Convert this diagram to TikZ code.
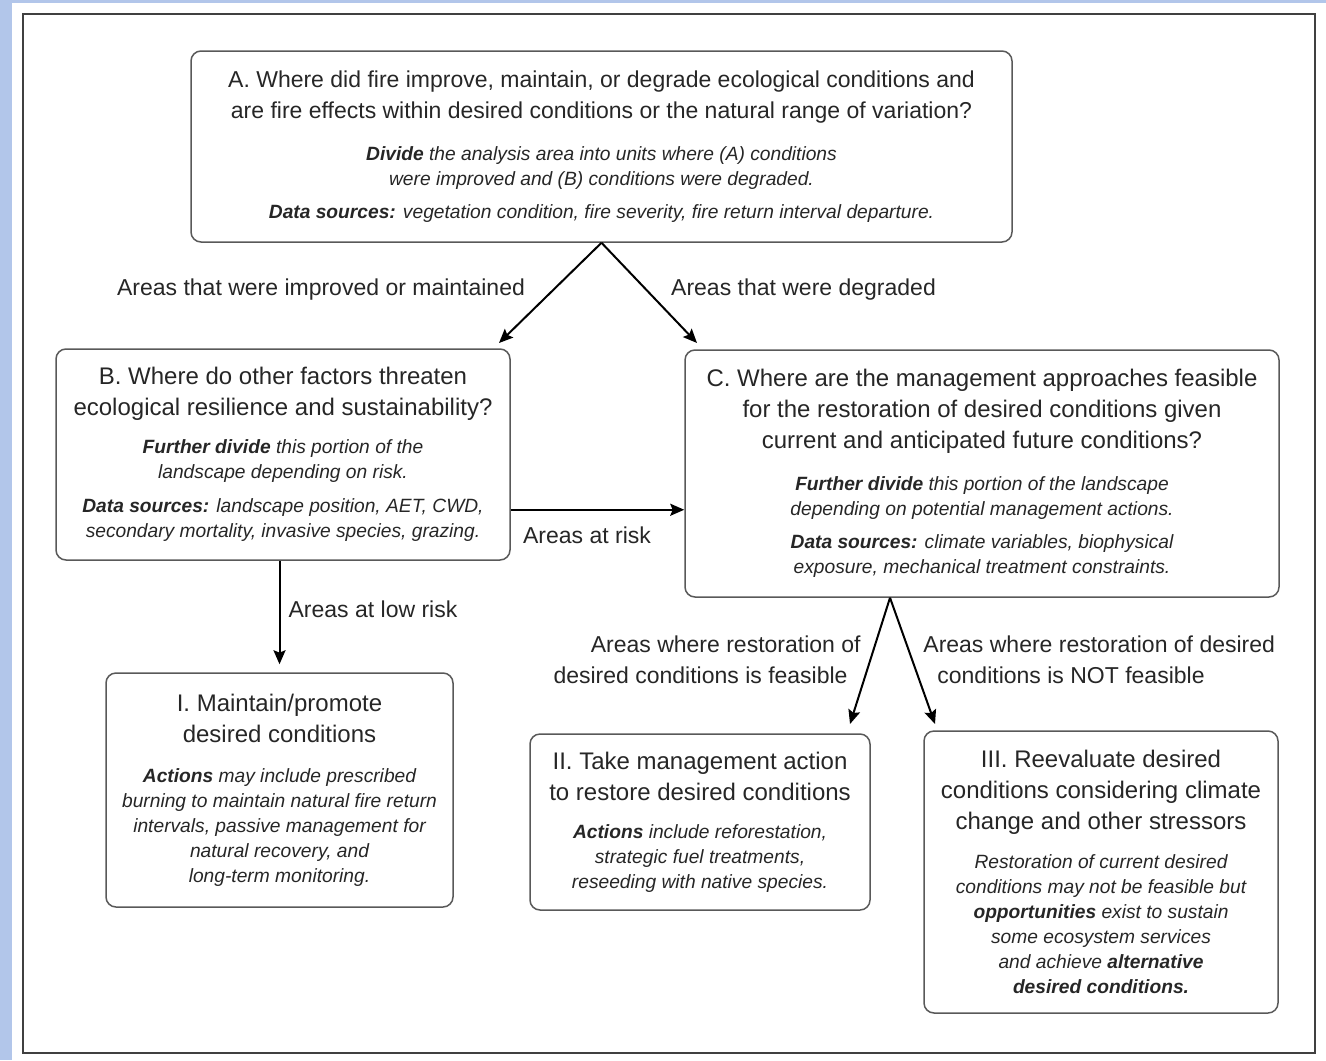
\documentclass[tikz,border=0pt]{standalone}
\usepackage{fontspec}
\setmainfont{Liberation Sans}
\usepackage{xcolor}
\usetikzlibrary{arrows.meta,calc}

\definecolor{sideblue}{RGB}{178,198,234}
\newcommand{\boxtitle}{\fontsize{12}{15.5}\selectfont}
\newcommand{\boxnote}{\fontsize{9.6}{12.3}\selectfont\itshape}

\tikzset{
  qbox/.style={draw=black!65, line width=0.75pt, rounded corners=5pt, align=center,
    font=\boxtitle, text=black!85},
  flowarrow/.style={line width=1pt, -{Stealth[length=7pt,width=6pt,inset=1.2pt]}},
  edgelabel/.style={font=\fontsize{11.5}{15.5}\selectfont, text=black!85, inner sep=0pt}
}

\begin{document}
\begin{tikzpicture}[x=0.5pt,y=-0.5pt]
\useasboundingbox (0,0) rectangle (1326,1060);
\fill[sideblue] (0,0) rectangle (12,1060);
\fill[sideblue] (0,0) rectangle (1326,3);
\draw[black!75, line width=1.2pt] (23,14) rectangle (1315,1053);

\begin{scope}
\node[qbox, font=\fontsize{11.5}{15.5}\selectfont, minimum width=410.5pt, minimum height=95.5pt]
  (A) at (601.5,146.5)
  {A. Where did fire improve, maintain, or degrade ecological conditions and\\
   are fire effects within desired conditions or the natural range of variation?\\[5.5pt]
   \boxnote\textbf{Divide} the analysis area into units where (A) conditions\\[-3pt]
   \boxnote were improved and (B) conditions were degraded.\\[1pt]
   \boxnote\textbf{Data sources:} vegetation condition, fire severity, fire return interval departure.};

\node[qbox, minimum width=227pt, minimum height=105.5pt] (B) at (283,454.5)
  {B. Where do other factors threaten\\
   ecological resilience and sustainability?\\[3.5pt]
   \boxnote\textbf{Further divide} this portion of the\\[-3pt]
   \boxnote landscape depending on risk.\\[1.5pt]
   \boxnote\textbf{Data sources:} landscape position, AET, CWD,\\[-3pt]
   \boxnote secondary mortality, invasive species, grazing.};

\node[qbox, minimum width=297pt, minimum height=123.5pt] (C) at (982,473.5)
  {C. Where are the management approaches feasible\\
   for the restoration of desired conditions given\\
   current and anticipated future conditions?\\[5.5pt]
   \boxnote\textbf{Further divide} this portion of the landscape\\[-3pt]
   \boxnote depending on potential management actions.\\[1pt]
   \boxnote\textbf{Data sources:} climate variables, biophysical\\[-3pt]
   \boxnote exposure, mechanical treatment constraints.};

\node[qbox, minimum width=173.5pt, minimum height=117pt] (I) at (279.5,790)
  {I. Maintain/promote\\
   desired conditions\\[4.5pt]
   \boxnote\textbf{Actions} may include prescribed\\[-3pt]
   \boxnote burning to maintain natural fire return\\[-3pt]
   \boxnote intervals, passive management for\\[-3pt]
   \boxnote natural recovery, and\\[-3pt]
   \boxnote long-term monitoring.};

\node[qbox, minimum width=170pt, minimum height=88pt] (II) at (700,822)
  {II. Take management action\\
   to restore desired conditions\\[3.5pt]
   \boxnote\textbf{Actions} include reforestation,\\[-3pt]
   \boxnote strategic fuel treatments,\\[-3pt]
   \boxnote reseeding with native species.};

\node[qbox, minimum width=177pt, minimum height=141pt] (III) at (1101,872)
  {III. Reevaluate desired\\
   conditions considering climate\\
   change and other stressors\\[4pt]
   \boxnote Restoration of current desired\\[-3pt]
   \boxnote conditions may not be feasible but\\[-3pt]
   \boxnote\textbf{opportunities} exist to sustain\\[-3pt]
   \boxnote some ecosystem services\\[-3pt]
   \boxnote and achieve \textbf{alternative}\\[-3pt]
   \boxnote\textbf{desired conditions.}};
\end{scope}

% connectors
\coordinate (tipB) at (499,343);
\coordinate (tipC) at (697,343);
\coordinate (splitC) at ([xshift=-46pt]C.south);
\coordinate (tipII) at (850,724);
\coordinate (tipIII) at (935,724);

\draw[flowarrow] (A.south) -- (tipB);
\draw[flowarrow] (A.south) -- (tipC);
\draw[flowarrow] ([yshift=25.5pt]B.south east) -- ([yshift=25.5pt]B.south east -| C.west);
\draw[flowarrow] (B.south -| I.north) -- ([yshift=4pt]I.north);
\draw[flowarrow] (splitC) -- (tipII);
\draw[flowarrow] (splitC) -- (tipIII);

\node[edgelabel] (lblKeep) at (321,290) {Areas that were improved or maintained};
\node[edgelabel] (lblWorse) at (803.5,290) {Areas that were degraded};
\node[edgelabel] (lblRisk) at (587,535) {Areas at risk};
\node[edgelabel] (lblLow) at (373,609) {Areas at low risk};
\node[edgelabel, anchor=east, align=right] (lblYes) at (861,659.5)
  {Areas where restoration of\\ desired conditions is feasible\hspace*{6.5pt}};
\node[edgelabel, anchor=west, align=left] (lblNo) at (923,659.5)
  {Areas where restoration of desired\\ \hspace*{7pt}conditions is NOT feasible};
\end{tikzpicture}
\end{document}
